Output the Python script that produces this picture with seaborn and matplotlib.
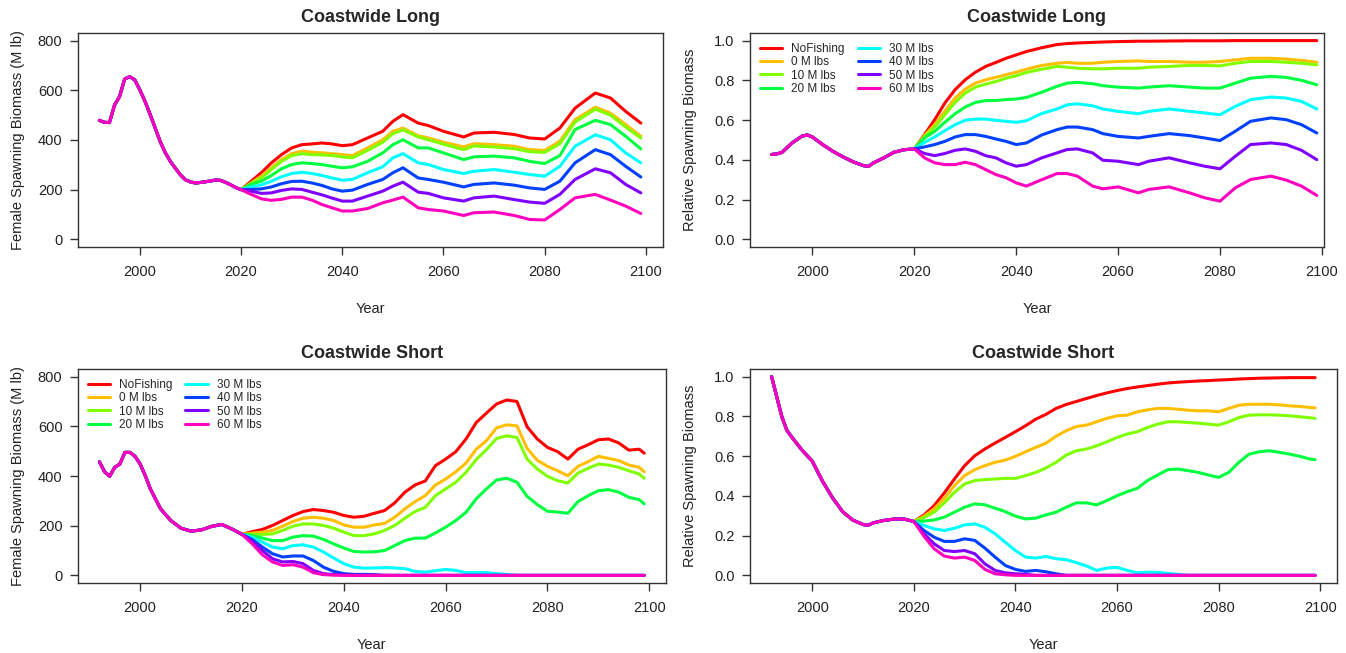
import pandas as pd
import matplotlib.pyplot as plt
import seaborn as sns

scenarios = ["NoFishing", "0 M lbs", "10 M lbs", "20 M lbs",
             "30 M lbs", "40 M lbs", "50 M lbs", "60 M lbs"]
colors = ["#FF0000", "#FFBF00", "#80FF00", "#00FF40",
          "#00FFFF", "#0040FF", "#8000FF", "#FF00BF"]

# ---------------- Coastwide Long: female spawning biomass (M lb)
long_sb_hist_years = list(range(1992, 2021))
long_sb_hist = [479, 471, 470, 540, 575, 645, 655, 642, 602, 557, 505, 450, 395, 350, 315,
                287, 260, 240, 231, 227, 229, 232, 235, 239, 237, 229, 219, 208, 200]

long_proj_years = [2020, 2022, 2024, 2026, 2028, 2030, 2032, 2034, 2036, 2038, 2040, 2042,
                   2045, 2048, 2050, 2052, 2055, 2057, 2060, 2064, 2066, 2070, 2074, 2077,
                   2080, 2083, 2086, 2090, 2093, 2096, 2099]

long_sb_nofish = [200, 234, 268, 308, 341, 368, 381, 384, 388, 384, 377, 381, 408, 435, 475, 502,
                  468, 458, 435, 412, 428, 431, 422, 408, 404, 448, 528, 589, 569, 515, 468]
long_sb_0 = [200, 227, 254, 288, 321, 345, 355, 351, 348, 345, 341, 337, 368, 401, 435, 448,
             417, 408, 391, 372, 385, 381, 375, 361, 358, 395, 482, 532, 508, 462, 415]
long_sb_10 = [200, 225, 247, 281, 314, 337, 345, 341, 340, 337, 332, 328, 358, 391, 425, 441,
              412, 401, 383, 361, 376, 372, 365, 353, 350, 385, 472, 524, 500, 452, 408]
long_sb_20 = [200, 221, 234, 257, 284, 301, 308, 305, 301, 294, 288, 292, 314, 348, 381, 401,
              368, 368, 348, 321, 332, 335, 328, 314, 305, 337, 442, 479, 462, 415, 364]
long_sb_30 = [200, 211, 219, 234, 252, 265, 270, 265, 257, 247, 238, 241, 268, 292, 328, 345,
              308, 301, 281, 265, 274, 281, 270, 261, 254, 294, 375, 421, 401, 348, 308]
long_sb_40 = [200, 201, 203, 211, 224, 233, 234, 227, 217, 203, 194, 198, 221, 241, 268, 288,
              247, 241, 230, 211, 221, 227, 218, 207, 201, 234, 308, 361, 341, 294, 251]
long_sb_50 = [200, 194, 185, 187, 197, 203, 201, 190, 179, 166, 154, 154, 174, 194, 214, 230,
              190, 185, 167, 154, 167, 174, 160, 150, 145, 181, 241, 284, 268, 221, 187]
long_sb_60 = [200, 181, 163, 157, 161, 170, 170, 158, 140, 127, 114, 114, 124, 147, 158, 170,
              127, 120, 114, 96, 107, 110, 96, 80, 78, 120, 167, 181, 158, 134, 104]

# ---------------- Coastwide Long: relative spawning biomass
long_rel_hist_years = [1992, 1993, 1994, 1996, 1998, 1999, 2000, 2002, 2004, 2006, 2008,
                       2010, 2011, 2012, 2014, 2016, 2018, 2020]
long_rel_hist = [0.427, 0.430, 0.437, 0.485, 0.520, 0.525, 0.515, 0.477, 0.443, 0.415, 0.390,
                 0.371, 0.367, 0.385, 0.410, 0.438, 0.451, 0.455]

long_rel_nofish = [0.455, 0.527, 0.602, 0.686, 0.753, 0.803, 0.841, 0.870, 0.890, 0.911, 0.928,
                   0.945, 0.964, 0.980, 0.985, 0.988, 0.991, 0.993, 0.995, 0.997, 0.997, 0.998,
                   0.999, 0.999, 0.999, 1.0, 1.0, 1.0, 1.0, 1.0, 1.0]
long_rel_0 = [0.455, 0.522, 0.577, 0.644, 0.711, 0.756, 0.786, 0.803, 0.815, 0.828, 0.841, 0.856,
              0.875, 0.886, 0.890, 0.886, 0.886, 0.891, 0.895, 0.898, 0.895, 0.895, 0.891, 0.891,
              0.895, 0.903, 0.911, 0.911, 0.907, 0.900, 0.891]
long_rel_10 = [0.455, 0.518, 0.565, 0.627, 0.689, 0.736, 0.766, 0.781, 0.794, 0.811, 0.823, 0.840,
               0.856, 0.870, 0.866, 0.861, 0.858, 0.858, 0.861, 0.861, 0.866, 0.870, 0.875, 0.875,
               0.873, 0.886, 0.895, 0.895, 0.891, 0.886, 0.878]
long_rel_20 = [0.455, 0.510, 0.543, 0.589, 0.632, 0.666, 0.689, 0.698, 0.699, 0.703, 0.706, 0.714,
               0.740, 0.770, 0.786, 0.790, 0.783, 0.773, 0.766, 0.761, 0.766, 0.773, 0.766, 0.761,
               0.761, 0.786, 0.811, 0.820, 0.815, 0.800, 0.778]
long_rel_30 = [0.455, 0.488, 0.515, 0.547, 0.577, 0.599, 0.605, 0.605, 0.599, 0.594, 0.589, 0.597,
               0.633, 0.656, 0.677, 0.682, 0.672, 0.656, 0.644, 0.632, 0.644, 0.656, 0.644, 0.636,
               0.627, 0.669, 0.703, 0.716, 0.711, 0.694, 0.656]
long_rel_40 = [0.455, 0.465, 0.477, 0.493, 0.515, 0.527, 0.527, 0.518, 0.505, 0.493, 0.477, 0.485,
               0.525, 0.552, 0.565, 0.565, 0.552, 0.532, 0.518, 0.510, 0.518, 0.532, 0.522, 0.510,
               0.497, 0.544, 0.594, 0.611, 0.602, 0.577, 0.535]
long_rel_50 = [0.455, 0.432, 0.421, 0.432, 0.448, 0.455, 0.443, 0.421, 0.410, 0.385, 0.368, 0.376,
               0.410, 0.435, 0.452, 0.455, 0.435, 0.398, 0.393, 0.376, 0.393, 0.410, 0.385, 0.368,
               0.355, 0.418, 0.477, 0.485, 0.477, 0.448, 0.401]
long_rel_60 = [0.455, 0.410, 0.385, 0.376, 0.376, 0.388, 0.376, 0.351, 0.326, 0.310, 0.284, 0.268,
               0.300, 0.331, 0.331, 0.318, 0.268, 0.254, 0.264, 0.234, 0.251, 0.264, 0.234, 0.209,
               0.192, 0.259, 0.301, 0.318, 0.298, 0.268, 0.221]

# ---------------- Coastwide Short: female spawning biomass (M lb)
short_sb_hist_years = [1992, 1993, 1994, 1995, 1996, 1997, 1998, 1999, 2000, 2001, 2002, 2003,
                       2004, 2006, 2008, 2010, 2012, 2014, 2016, 2018, 2020]
short_sb_hist = [457, 417, 399, 435, 448, 495, 495, 479, 448, 401, 348, 308,
                 268, 221, 190, 178, 183, 197, 205, 187, 165]

short_proj_years = [2020, 2022, 2024, 2026, 2028, 2030, 2032, 2034, 2036, 2038, 2040,
                    2042, 2044, 2046, 2048, 2050, 2052, 2054, 2056, 2058, 2060,
                    2062, 2064, 2066, 2068, 2070, 2072, 2074, 2076, 2078, 2080,
                    2082, 2084, 2086, 2088, 2090, 2092, 2094, 2096, 2098, 2099]

short_sb_nofish = [165, 176, 185, 201, 221, 241, 257, 265, 261, 254, 241,
                   234, 238, 250, 261, 292, 335, 364, 380, 442, 468,
                   498, 549, 615, 653, 690, 706, 700, 598, 549, 515,
                   498, 468, 508, 526, 546, 549, 533, 504, 508, 492]
short_sb_0 = [165, 170, 174, 181, 198, 217, 230, 234, 230, 221, 203,
              194, 194, 203, 209, 234, 268, 297, 321, 364, 388,
              417, 452, 508, 542, 594, 606, 602, 511, 463, 439,
              421, 401, 439, 458, 479, 471, 462, 444, 435, 417]
short_sb_10 = [165, 165, 165, 167, 181, 198, 207, 207, 201, 190, 174,
               160, 160, 167, 181, 201, 230, 257, 274, 321, 348,
               375, 415, 466, 506, 551, 562, 555, 468, 428, 399,
               381, 372, 412, 431, 448, 444, 435, 421, 408, 391]
short_sb_20 = [165, 160, 150, 140, 140, 154, 160, 158, 145, 127, 110,
               96, 94, 95, 100, 120, 140, 150, 150, 171, 194,
               221, 254, 308, 348, 384, 391, 375, 318, 285, 258,
               255, 250, 297, 321, 341, 345, 335, 314, 305, 288]
short_sb_30 = [165, 154, 134, 114, 107, 120, 123, 114, 94, 70, 47,
               33, 29, 30, 31, 30, 27, 16, 13, 19, 24,
               20, 11, 12, 11, 7, 4, 0, 0, 0, 0,
               0, 0, 0, 0, 0, 0, 0, 0, 0, 0]
short_sb_40 = [165, 145, 114, 87, 74, 78, 78, 60, 33, 16, 7,
               4, 4, 3, 0, 0, 0, 0, 0, 0, 0,
               0, 0, 0, 0, 0, 0, 0, 0, 0, 0,
               0, 0, 0, 0, 0, 0, 0, 0, 0, 0]
short_sb_50 = [165, 136, 100, 67, 54, 56, 47, 20, 7, 3, 2,
               0, 0, 0, 0, 0, 0, 0, 0, 0, 0,
               0, 0, 0, 0, 0, 0, 0, 0, 0, 0,
               0, 0, 0, 0, 0, 0, 0, 0, 0, 0]
short_sb_60 = [165, 127, 83, 54, 40, 43, 33, 11, 3, 1, 0,
               0, 0, 0, 0, 0, 0, 0, 0, 0, 0,
               0, 0, 0, 0, 0, 0, 0, 0, 0, 0,
               0, 0, 0, 0, 0, 0, 0, 0, 0, 0]

# ---------------- Coastwide Short: relative spawning biomass
short_rel_hist_years = [1992, 1993, 1994, 1995, 1996, 1998, 2000, 2002, 2004, 2006, 2008,
                        2010, 2011, 2012, 2014, 2016, 2018, 2020]
short_rel_hist = [1.0, 0.90, 0.80, 0.73, 0.695, 0.63, 0.575, 0.475, 0.39, 0.32, 0.278,
                  0.256, 0.252, 0.264, 0.276, 0.283, 0.284, 0.271]

short_rel_nofish = [0.271, 0.304, 0.351, 0.415, 0.485, 0.552, 0.602, 0.636, 0.666, 0.694, 0.723,
                    0.753, 0.786, 0.810, 0.840, 0.860, 0.875, 0.890, 0.905, 0.918, 0.930,
                    0.940, 0.948, 0.955, 0.962, 0.968, 0.972, 0.975, 0.978, 0.980, 0.983,
                    0.985, 0.988, 0.990, 0.992, 0.993, 0.994, 0.995, 0.995, 0.995, 0.995]
short_rel_0 = [0.271, 0.298, 0.335, 0.388, 0.452, 0.502, 0.532, 0.552, 0.569, 0.580, 0.599,
               0.622, 0.644, 0.665, 0.700, 0.728, 0.749, 0.756, 0.773, 0.790, 0.803,
               0.806, 0.823, 0.833, 0.840, 0.840, 0.836, 0.831, 0.828, 0.828, 0.823,
               0.840, 0.856, 0.861, 0.861, 0.861, 0.858, 0.853, 0.850, 0.845, 0.843]
short_rel_10 = [0.271, 0.291, 0.318, 0.365, 0.418, 0.460, 0.477, 0.482, 0.485, 0.488, 0.488,
                0.502, 0.518, 0.540, 0.569, 0.605, 0.627, 0.636, 0.652, 0.672, 0.694,
                0.711, 0.723, 0.744, 0.761, 0.773, 0.773, 0.769, 0.766, 0.761, 0.756,
                0.773, 0.794, 0.806, 0.808, 0.808, 0.806, 0.803, 0.798, 0.793, 0.790]
short_rel_20 = [0.271, 0.273, 0.279, 0.293, 0.318, 0.343, 0.360, 0.355, 0.338, 0.321, 0.298,
                0.284, 0.288, 0.304, 0.318, 0.343, 0.365, 0.365, 0.355, 0.376, 0.401,
                0.421, 0.438, 0.477, 0.505, 0.532, 0.535, 0.527, 0.518, 0.505, 0.493,
                0.518, 0.569, 0.610, 0.622, 0.627, 0.619, 0.610, 0.599, 0.585, 0.582]
short_rel_30 = [0.271, 0.251, 0.234, 0.226, 0.237, 0.254, 0.259, 0.242, 0.209, 0.167, 0.125,
                0.092, 0.087, 0.095, 0.084, 0.079, 0.064, 0.047, 0.025, 0.037, 0.040,
                0.025, 0.013, 0.016, 0.015, 0.010, 0.005, 0.0, 0.0, 0.0, 0.0,
                0.0, 0.0, 0.0, 0.0, 0.0, 0.0, 0.0, 0.0, 0.0, 0.0]
short_rel_40 = [0.271, 0.226, 0.192, 0.171, 0.171, 0.184, 0.176, 0.137, 0.092, 0.050, 0.030,
                0.020, 0.025, 0.018, 0.008, 0.0, 0.0, 0.0, 0.0, 0.0, 0.0,
                0.0, 0.0, 0.0, 0.0, 0.0, 0.0, 0.0, 0.0, 0.0, 0.0,
                0.0, 0.0, 0.0, 0.0, 0.0, 0.0, 0.0, 0.0, 0.0, 0.0]
short_rel_50 = [0.271, 0.209, 0.159, 0.125, 0.120, 0.125, 0.109, 0.058, 0.025, 0.013, 0.008,
                0.005, 0.0, 0.0, 0.0, 0.0, 0.0, 0.0, 0.0, 0.0, 0.0,
                0.0, 0.0, 0.0, 0.0, 0.0, 0.0, 0.0, 0.0, 0.0, 0.0,
                0.0, 0.0, 0.0, 0.0, 0.0, 0.0, 0.0, 0.0, 0.0, 0.0]
short_rel_60 = [0.271, 0.197, 0.134, 0.097, 0.087, 0.092, 0.075, 0.030, 0.008, 0.003, 0.0,
                0.0, 0.0, 0.0, 0.0, 0.0, 0.0, 0.0, 0.0, 0.0, 0.0,
                0.0, 0.0, 0.0, 0.0, 0.0, 0.0, 0.0, 0.0, 0.0, 0.0,
                0.0, 0.0, 0.0, 0.0, 0.0, 0.0, 0.0, 0.0, 0.0, 0.0]


def panel_frame(hist_years, hist_vals, proj_years, series):
    # every scenario shares the historical part, projections start at 2020
    parts = []
    for name, vals in zip(scenarios, series):
        parts.append(pd.DataFrame({
            "Year": hist_years + proj_years[1:],
            "Value": hist_vals + vals[1:],
            "Scenario": name,
        }))
    return pd.concat(parts, ignore_index=True)


panels = [
    dict(title="Coastwide Long", ylabel="Female Spawning Biomass (M lb)", rel=False, legend=False,
         pos=[0.0577, 0.6213, 0.4345, 0.3287], xmax=2103.28,
         df=panel_frame(long_sb_hist_years, long_sb_hist, long_proj_years,
                        [long_sb_nofish, long_sb_0, long_sb_10, long_sb_20,
                         long_sb_30, long_sb_40, long_sb_50, long_sb_60])),
    dict(title="Coastwide Long", ylabel="Relative Spawning Biomass", rel=True, legend=True,
         pos=[0.5571, 0.6213, 0.4265, 0.3287], xmax=2100.4,
         df=panel_frame(long_rel_hist_years, long_rel_hist, long_proj_years,
                        [long_rel_nofish, long_rel_0, long_rel_10, long_rel_20,
                         long_rel_30, long_rel_40, long_rel_50, long_rel_60])),
    dict(title="Coastwide Short", ylabel="Female Spawning Biomass (M lb)", rel=False, legend=True,
         pos=[0.0577, 0.1067, 0.4371, 0.3287], xmax=2103.28,
         df=panel_frame(short_sb_hist_years, short_sb_hist, short_proj_years,
                        [short_sb_nofish, short_sb_0, short_sb_10, short_sb_20,
                         short_sb_30, short_sb_40, short_sb_50, short_sb_60])),
    dict(title="Coastwide Short", ylabel="Relative Spawning Biomass", rel=True, legend=False,
         pos=[0.5571, 0.1067, 0.4361, 0.3287], xmax=2103.28,
         df=panel_frame(short_rel_hist_years, short_rel_hist, short_proj_years,
                        [short_rel_nofish, short_rel_0, short_rel_10, short_rel_20,
                         short_rel_30, short_rel_40, short_rel_50, short_rel_60])),
]

sns.set_style("ticks")
plt.rcParams["font.family"] = ["Liberation Sans", "DejaVu Sans"]

FIG_W, FIG_H = 13.46, 6.53
fig = plt.figure(figsize=(FIG_W, FIG_H), dpi=100)
edge = "#333333"

for p in panels:
    ax = fig.add_axes(p["pos"])
    sns.lineplot(data=p["df"], x="Year", y="Value", hue="Scenario", hue_order=scenarios,
                 palette=colors, linewidth=2.2, estimator=None, sort=False,
                 legend=p["legend"], ax=ax)

    ax.set_xlim(1987.72, p["xmax"])
    ax.set_xticks(range(2000, 2101, 20))
    if p["rel"]:
        ax.set_ylim(-0.04, 1.04)
        ax.set_yticks([0, 0.2, 0.4, 0.6, 0.8, 1.0])
        ax.set_yticklabels(["0.0", "0.2", "0.4", "0.6", "0.8", "1.0"])
    else:
        ax.set_ylim(-32, 832)
        ax.set_yticks([0, 200, 400, 600, 800])

    for s in ax.spines.values():
        s.set_visible(True)
        s.set_color(edge)
        s.set_linewidth(1.0)
    ax.tick_params(direction="out", length=6, width=1.0, color=edge,
                   labelcolor="#222222", labelsize=10.5)
    ax.tick_params(axis="x", pad=7)
    ax.tick_params(axis="y", pad=5)

    ax.set_title(p["title"], fontsize=13, fontweight="bold", pad=8)

    # label positions as fixed pixel offsets from the box, like base R graphics
    w_px = p["pos"][2] * FIG_W * 100
    h_px = p["pos"][3] * FIG_H * 100
    ax.set_xlabel("Year", fontsize=10.5, color="#222222")
    ax.set_ylabel(p["ylabel"], fontsize=10.5, color="#222222")
    ax.xaxis.set_label_coords(0.5, -55 / h_px)
    ax.yaxis.set_label_coords(-53 / w_px, 0.5)

    if p["legend"]:
        sns.move_legend(ax, "upper left", bbox_to_anchor=(0.0, 1.0), ncol=2, frameon=False,
                        title=None, fontsize=8.5, handlelength=1.9, handletextpad=0.75,
                        columnspacing=1.1, labelspacing=0.12, borderaxespad=0.45)
        for line in ax.get_legend().get_lines():
            line.set_linewidth(2.2)

fig.savefig("out.png", dpi=100)
plt.close(fig)
